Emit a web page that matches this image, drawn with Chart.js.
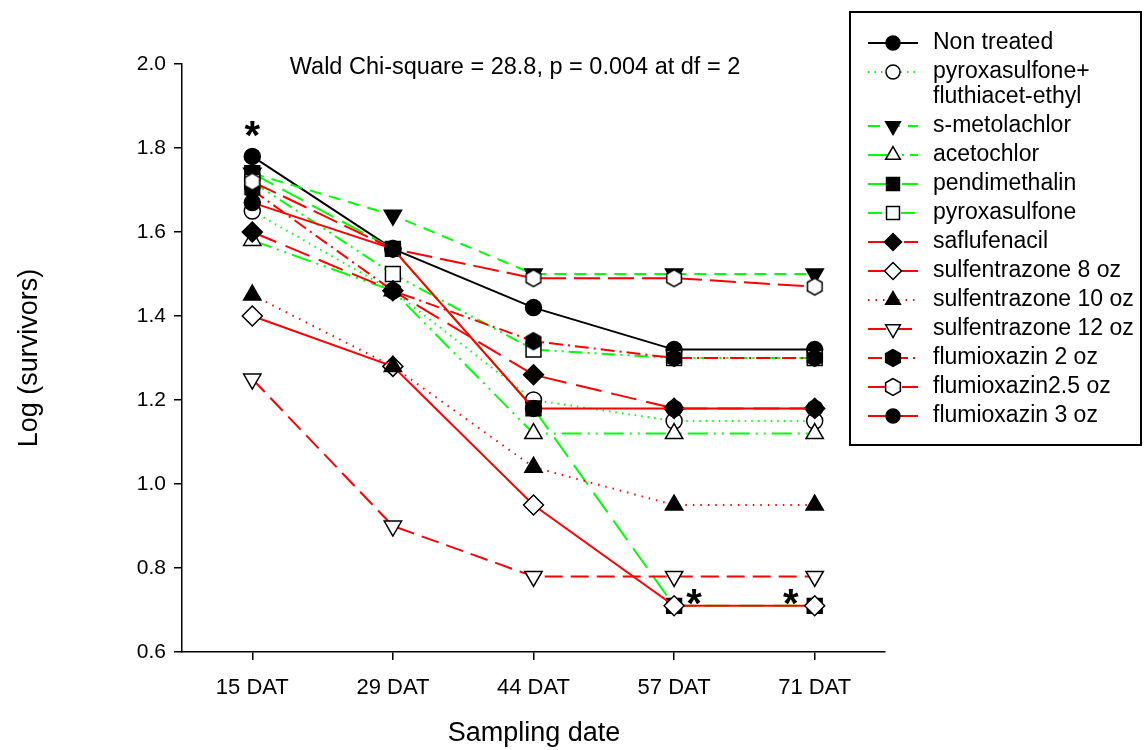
<!DOCTYPE html>
<html>
<head>
<meta charset="utf-8">
<script src="https://cdn.jsdelivr.net/npm/chart.js@4/dist/chart.umd.min.js"></script>
<style>
  html, body { margin: 0; padding: 0; background: #fff; }
</style>
</head>
<body>
<canvas id="survivors" width="1147" height="750"></canvas>
<script>
const dates = ["15 DAT", "29 DAT", "44 DAT", "57 DAT", "71 DAT"];
const yTicks = [0.6, 0.8, 1.0, 1.2, 1.4, 1.6, 1.8, 2.0];

const nonTreated = [1.78, 1.56, 1.42, 1.32, 1.32];
const pyroxFluthiacet = [1.65, 1.46, 1.20, 1.15, 1.15];
const sMetolachlor = [1.74, 1.64, 1.50, 1.50, 1.50];
const acetochlor = [1.58, 1.46, 1.12, 1.12, 1.12];
const pendimethalin = [1.74, 1.56, 1.18, 0.71, 0.71];
const pyroxasulfone = [1.72, 1.50, 1.32, 1.30, 1.30];
const saflufenacil = [1.60, 1.46, 1.26, 1.18, 1.18];
const sulfentrazone8 = [1.40, 1.28, 0.95, 0.71, 0.71];
const sulfentrazone10 = [1.45, 1.28, 1.04, 0.95, 0.95];
const sulfentrazone12 = [1.25, 0.90, 0.78, 0.78, 0.78];
const flumioxazin2 = [1.70, 1.46, 1.34, 1.30, 1.30];
const flumioxazin25 = [1.72, 1.56, 1.49, 1.49, 1.47];
const flumioxazin3 = [1.67, 1.56, 1.18, 1.18, 1.18];

// where the significance stars go: [date index, value]
const stars = [[0, 1.78], [3, 0.71], [4, 0.71]];

const statText = "Wald Chi-square = 28.8, p = 0.004 at df = 2";
const font = "'Liberation Sans', Arial, sans-serif";

const GREEN = "#00ff00";
const RED = "#ff0000";

const hexagon = (filled, r) => {
  const size = Math.ceil(r * 2 + 3);
  const c = document.createElement("canvas");
  c.width = size;
  c.height = size;
  const g = c.getContext("2d");
  traceHex(g, size / 2, size / 2, r);
  g.fillStyle = filled ? "#000" : "#fff";
  g.fill();
  g.lineWidth = 1.5;
  g.strokeStyle = "#000";
  g.stroke();
  return c;
};

function traceHex(g, x, y, r) {
  g.beginPath();
  for (let i = 0; i < 6; i++) {
    const a = Math.PI / 2 + (i * Math.PI) / 3;
    const px = x + r * Math.cos(a);
    const py = y - r * Math.sin(a);
    if (i === 0) g.moveTo(px, py);
    else g.lineTo(px, py);
  }
  g.closePath();
}

// marker: shape, filled, radius
const series = [
  { label: ["Non treated"], data: nonTreated, color: "#000", dash: [], shape: "circle", filled: true, r: 8 },
  { label: ["pyroxasulfone+", "fluthiacet-ethyl"], data: pyroxFluthiacet, color: GREEN, dash: [1.5, 5], shape: "circle", filled: false, r: 8 },
  { label: ["s-metolachlor"], data: sMetolachlor, color: GREEN, dash: [12, 8], shape: "down", filled: true, r: 10 },
  { label: ["acetochlor"], data: acetochlor, color: GREEN, dash: [20, 6, 2, 6, 2, 6], shape: "triangle", filled: false, r: 10 },
  { label: ["pendimethalin"], data: pendimethalin, color: GREEN, dash: [24, 10], shape: "rect", filled: true, r: 10.5 },
  { label: ["pyroxasulfone"], data: pyroxasulfone, color: GREEN, dash: [14, 5, 2, 5, 2, 5], shape: "rect", filled: false, r: 10.5 },
  { label: ["saflufenacil"], data: saflufenacil, color: RED, dash: [26, 10], shape: "rectRot", filled: true, r: 10 },
  { label: ["sulfentrazone 8 oz"], data: sulfentrazone8, color: RED, dash: [], shape: "rectRot", filled: false, r: 10 },
  { label: ["sulfentrazone 10 oz"], data: sulfentrazone10, color: RED, dash: [1.5, 6], shape: "triangle", filled: true, r: 10 },
  { label: ["sulfentrazone 12 oz"], data: sulfentrazone12, color: RED, dash: [18, 8], shape: "down", filled: false, r: 10 },
  { label: ["flumioxazin 2 oz"], data: flumioxazin2, color: RED, dash: [14, 5, 2, 5], shape: "hex", filled: true, r: 8.5 },
  { label: ["flumioxazin2.5 oz"], data: flumioxazin25, color: RED, dash: [26, 8], shape: "hex", filled: false, r: 8.5 },
  { label: ["flumioxazin 3 oz"], data: flumioxazin3, color: RED, dash: [], shape: "circle", filled: true, r: 8 },
];

const datasets = series.map((s, i) => ({
  label: s.label.join(" "),
  data: s.data,
  borderColor: s.color,
  borderWidth: 2,
  borderDash: s.dash,
  tension: 0,
  fill: false,
  pointStyle: s.shape === "hex" ? hexagon(s.filled, s.r) : s.shape === "down" ? "triangle" : s.shape,
  pointRotation: s.shape === "down" ? 180 : 0,
  pointRadius: s.r,
  pointHoverRadius: s.r,
  pointBackgroundColor: s.filled ? "#000" : "#fff",
  pointBorderColor: "#000",
  pointBorderWidth: 1.5,
  order: series.length - i,
}));

// small marker drawer for the legend box
function drawMarker(ctx, s, x, y, r) {
  ctx.save();
  ctx.setLineDash([]);
  ctx.beginPath();
  if (s.shape === "circle") {
    ctx.arc(x, y, r, 0, Math.PI * 2);
  } else if (s.shape === "rect") {
    ctx.rect(x - r * 0.72, y - r * 0.72, r * 1.44, r * 1.44);
  } else if (s.shape === "rectRot") {
    ctx.moveTo(x, y - r);
    ctx.lineTo(x + r, y);
    ctx.lineTo(x, y + r);
    ctx.lineTo(x - r, y);
    ctx.closePath();
  } else if (s.shape === "triangle" || s.shape === "down") {
    const k = s.shape === "down" ? -1 : 1;
    ctx.moveTo(x, y - k * r);
    ctx.lineTo(x + r * 0.866, y + k * r * 0.5);
    ctx.lineTo(x - r * 0.866, y + k * r * 0.5);
    ctx.closePath();
  } else if (s.shape === "hex") {
    traceHex(ctx, x, y, r);
  }
  ctx.fillStyle = s.filled ? "#000" : "#fff";
  ctx.fill();
  ctx.lineWidth = 1.5;
  ctx.strokeStyle = "#000";
  ctx.stroke();
  ctx.restore();
}

const decorations = {
  id: "decorations",
  afterDatasetsDraw(chart) {
    const { ctx, scales } = chart;
    const x = scales.x;
    const y = scales.y;
    ctx.save();
    ctx.fillStyle = "#000";
    ctx.font = `23.5px ${font}`;
    ctx.textAlign = "center";
    ctx.textBaseline = "middle";
    ctx.fillText(statText, 515, 68);

    ctx.font = `bold 40px ${font}`;
    const offsets = [[0, -18], [20, 0], [-24, 0]];
    stars.forEach(([i, v], k) => {
      ctx.fillText("*", x.getPixelForValue(i) + offsets[k][0], y.getPixelForValue(v) + offsets[k][1]);
    });
    ctx.restore();
  },
  afterDraw(chart) {
    const { ctx, chartArea } = chart;
    ctx.save();
    // axis titles
    ctx.fillStyle = "#000";
    ctx.font = `27px ${font}`;
    ctx.textAlign = "center";
    ctx.textBaseline = "middle";
    ctx.fillText("Sampling date", 534, 734);
    ctx.translate(30, (chartArea.top + chartArea.bottom) / 2);
    ctx.rotate(-Math.PI / 2);
    ctx.fillText("Log (survivors)", 0, 0);
    ctx.restore();

    // legend box
    ctx.save();
    ctx.lineWidth = 2;
    ctx.strokeStyle = "#000";
    ctx.strokeRect(850, 12, 291, 433);
    ctx.font = `23px ${font}`;
    ctx.textAlign = "left";
    ctx.textBaseline = "middle";
    ctx.fillStyle = "#000";
    let rowY = 43;
    series.forEach((s) => {
      ctx.save();
      ctx.strokeStyle = s.color;
      ctx.lineWidth = 2;
      ctx.setLineDash(s.dash);
      ctx.beginPath();
      ctx.moveTo(868, rowY);
      ctx.lineTo(918, rowY);
      ctx.stroke();
      ctx.restore();
      drawMarker(ctx, s, 893, rowY, s.shape === "rect" ? 9 : s.shape === "circle" ? 7 : 8.5);
      s.label.forEach((line, j) => {
        ctx.fillText(line, 933, rowY + j * 25);
      });
      rowY += 29 + (s.label.length - 1) * 25;
    });
    ctx.restore();
  },
};

const ctx = document.getElementById("survivors").getContext("2d");

const chart = new Chart(ctx, {
  type: "line",
  data: { labels: dates, datasets: datasets },
  options: {
    responsive: false,
    animation: false,
    layout: { padding: { top: 64, right: 262, bottom: 0, left: 0 } },
    plugins: {
      legend: { display: false },
      tooltip: { enabled: false },
    },
    scales: {
      x: {
        type: "category",
        offset: true,
        afterFit: (scale) => { scale.height = 98; },
        border: { display: true, color: "#000", width: 1.5 },
        grid: { display: true, offset: false, drawOnChartArea: false, drawTicks: true, tickLength: 8, color: "#000", lineWidth: 1.5 },
        ticks: { color: "#000", padding: 15, font: { family: font, size: 22 }, maxRotation: 0 },
      },
      y: {
        min: yTicks[0],
        max: yTicks[yTicks.length - 1],
        afterFit: (scale) => { scale.width = 182; },
        afterBuildTicks: (scale) => { scale.ticks = yTicks.map((v) => ({ value: v })); },
        border: { display: true, color: "#000", width: 1.5 },
        grid: { display: true, drawOnChartArea: false, drawTicks: true, tickLength: 8, color: "#000", lineWidth: 1.5 },
        ticks: {
          color: "#000",
          padding: 8,
          font: { family: font, size: 21 },
          callback: (v) => Number(v).toFixed(1),
        },
      },
    },
  },
  plugins: [decorations],
});
</script>
</body>
</html>
